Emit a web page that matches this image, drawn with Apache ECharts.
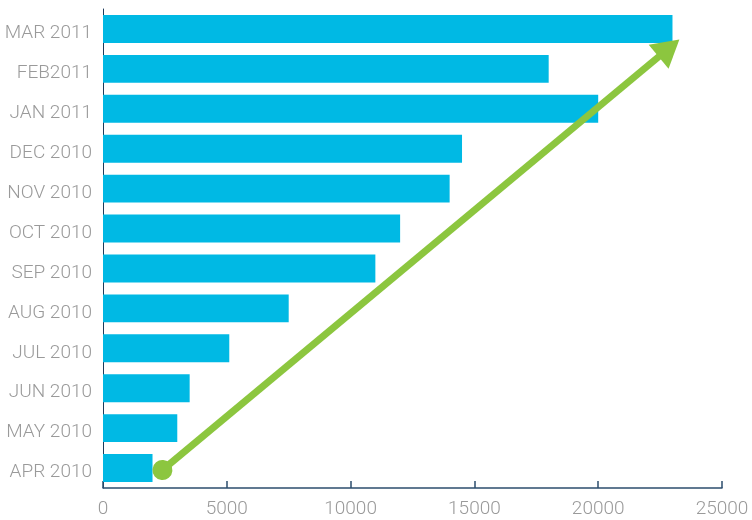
<!DOCTYPE html>
<html><head><meta charset="utf-8">
<script src="https://cdn.jsdelivr.net/npm/echarts@6/dist/echarts.min.js"></script>
<style>html,body{margin:0;padding:0;background:#fff}#c{width:752px;height:520px}</style>
</head><body><div id="c"></div>
<script>
const categories = ['APR 2010','MAY 2010','JUN 2010','JUL 2010','AUG 2010','SEP 2010','OCT 2010','NOV 2010','DEC 2010','JAN 2011','FEB2011','MAR 2011'];
const values = [2000,3000,3500,5100,7500,11000,12000,14000,14500,20000,18000,23000];
const trendStart = [2400,-0.05];
const trendEnd = [22860,10.52];
const xTicks = [0,5000,10000,15000,20000,25000];

const chart = echarts.init(document.getElementById('c'));
const labelFont = {color:'#9a9a9a', fontSize:19, fontFamily:'Roboto', fontWeight:300};
chart.setOption({
  animation:false,
  grid:{left:103,right:30,top:9,bottom:32},
  xAxis:{type:'value',min:xTicks[0],max:xTicks[xTicks.length-1],interval:5000,
    axisLine:{show:true,onZero:false,lineStyle:{color:'#2d4d6e',width:1.5}},
    axisTick:{show:true,inside:true,length:7,lineStyle:{color:'#2d4d6e',width:1.5}},
    splitLine:{show:false},
    axisLabel:Object.assign({margin:12,formatter:v=>String(v)},labelFont)},
  yAxis:[{type:'category',data:categories,
    axisLine:{show:true,onZero:false,lineStyle:{color:'#1d3a5a',width:1}},
    axisTick:{show:false},
    axisLabel:Object.assign({margin:11,verticalAlign:'top',lineHeight:9},labelFont)},
    {type:'value',min:-0.5,max:11.5,show:false}],
  series:[{type:'bar',data:values,barCategoryGap:'30%',itemStyle:{color:'#00b9e4'}},
    {type:'line',xAxisIndex:0,yAxisIndex:1,data:[],symbol:'none',
     markLine:{silent:true,symbol:['circle','triangle'],symbolSize:[20,30],
       label:{show:false},
       lineStyle:{color:'#8cc63f',width:7,type:'solid'},
       data:[[{coord:trendStart,symbol:'circle',symbolSize:20},
              {coord:trendEnd,symbol:'triangle',symbolSize:[31,27]}]]}}]
});
</script></body></html>
